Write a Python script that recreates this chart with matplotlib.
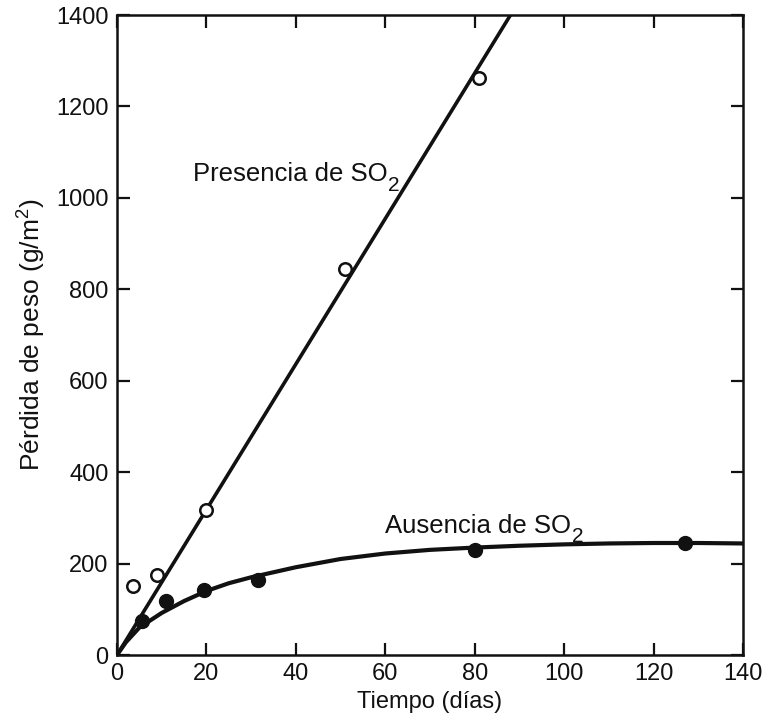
import matplotlib
matplotlib.use("Agg")
import matplotlib.pyplot as plt

plt.rcParams['font.family'] = ['Liberation Sans', 'DejaVu Sans']
plt.rcParams['mathtext.fontset'] = 'custom'
plt.rcParams['mathtext.rm'] = 'Liberation Sans'
plt.rcParams['mathtext.it'] = 'Liberation Sans'

# Data
so2_days = [3.5, 9, 20, 51, 81]
so2_loss = [152, 176, 317, 845, 1262]
so2_line_days = [0, 88]
so2_line_loss = [0, 1400]

noso2_days = [5.5, 11, 19.5, 31.5, 80, 127]
noso2_loss = [75, 118, 142, 165, 230, 245]
noso2_curve_days = [0, 2, 5, 10, 15, 20, 25, 30, 40, 50, 60, 70, 80, 90, 100, 110, 120, 130, 140]
noso2_curve_loss = [0, 28, 60, 92, 118, 140, 157, 170, 192, 210, 222, 230, 235, 239, 242, 244, 245, 245, 244]

xticks = [0, 20, 40, 60, 80, 100, 120, 140]
yticks = [0, 200, 400, 600, 800, 1000, 1200, 1400]

ink = '#111111'
fig = plt.figure(figsize=(7.74, 7.26), dpi=100)
ax = fig.add_axes([117/774, 1-655/726, 626/774, 640/726])

ax.plot(so2_line_days, so2_line_loss, color=ink, lw=2.6, solid_capstyle='butt')
ax.plot(noso2_curve_days, noso2_curve_loss, color=ink, lw=3.0)
ax.plot(so2_days, so2_loss, 'o', ms=9, mfc='white', mec=ink, mew=1.8, clip_on=False, zorder=3)
ax.plot(noso2_days, noso2_loss, 'o', ms=10, mfc=ink, mec=ink, clip_on=False, zorder=3)

ax.set_xlim(0, 140)
ax.set_ylim(0, 1400)
ax.set_xticks(xticks)
ax.set_yticks(yticks)
ax.tick_params(direction='in', length=9, width=1.6, top=True, right=True,
               labelsize=17, pad=6, colors=ink)
for s in ax.spines.values():
    s.set_linewidth(1.8)
    s.set_color(ink)

ax.set_xlabel('Tiempo (días)', fontsize=17, labelpad=4, color=ink)
ax.set_ylabel('Pérdida de peso (g/m$^2$)', fontsize=19, labelpad=6, color=ink)

for x, y, s in [(17, 1036, 'Presencia de SO'), (60, 267, 'Ausencia de SO')]:
    t = ax.text(x, y, s, fontsize=18.5, va='baseline', ha='left', color=ink,
                transform=ax.transData)
    ax.annotate('2', xy=(1, 0), xycoords=t, xytext=(0.5, -3),
                textcoords='offset points', fontsize=15, ha='left', va='baseline',
                color=ink)

fig.savefig('out.png', dpi=100)
